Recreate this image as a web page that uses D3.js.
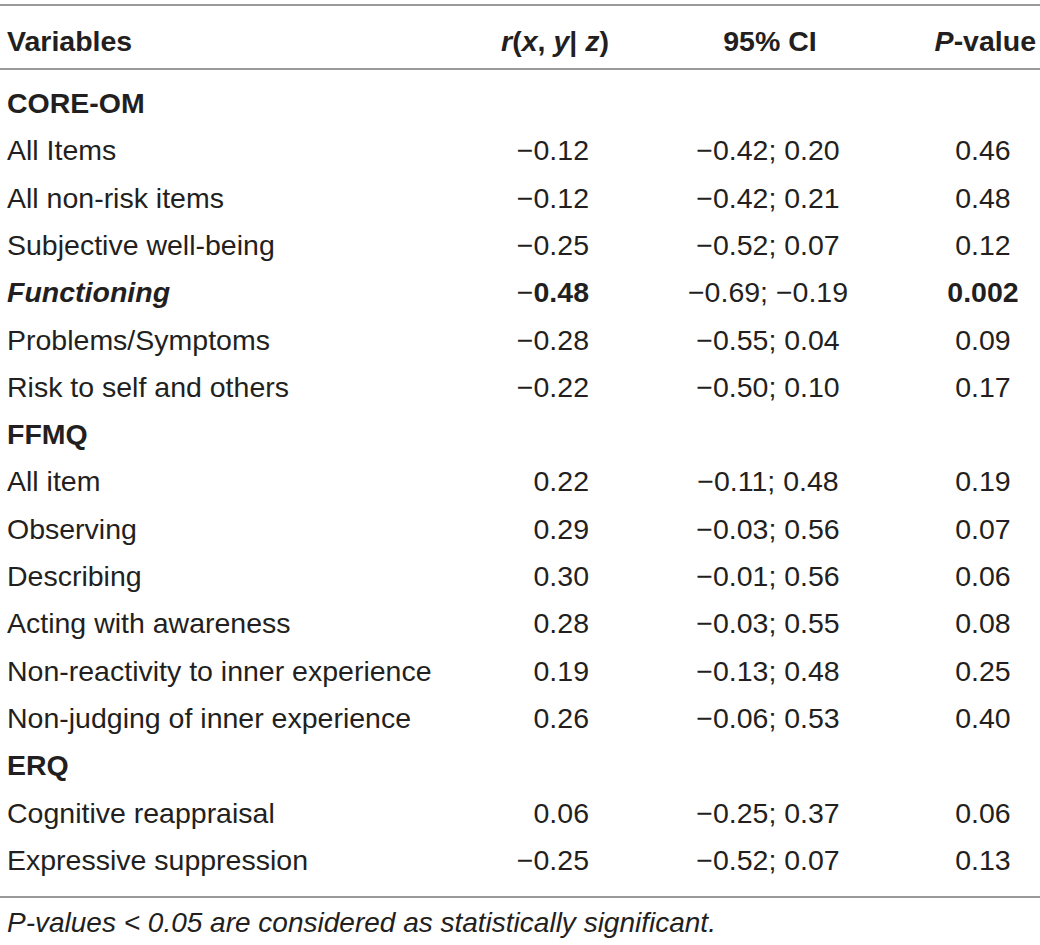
<!DOCTYPE html>
<html lang="en">
<head>
  <meta charset="UTF-8">
  <title>partial correlations</title>
  <script src="https://cdn.jsdelivr.net/npm/d3@7/dist/d3.min.js"></script>
</head>
<body>
<style>
  * { padding: 0; margin: 0; }
  body { background: #fff; }
  #app { width: 1040px; height: 945px; }
  text { font-family: "Liberation Sans", Arial, sans-serif; fill: #231f20; }
</style>

<div id="app"></div>

<script>
  // table content
  const groups = ["CORE-OM", "FFMQ", "ERQ"];
  const variables = [
    "All Items", "All non-risk items", "Subjective well-being", "Functioning",
    "Problems/Symptoms", "Risk to self and others",
    "All item", "Observing", "Describing", "Acting with awareness",
    "Non-reactivity to inner experience", "Non-judging of inner experience",
    "Cognitive reappraisal", "Expressive suppression"
  ];
  const groupOf = [0, 0, 0, 0, 0, 0, 1, 1, 1, 1, 1, 1, 2, 2];
  const rValues = [-0.12, -0.12, -0.25, -0.48, -0.28, -0.22, 0.22, 0.29, 0.30, 0.28, 0.19, 0.26, 0.06, -0.25];
  const ciLower = [-0.42, -0.42, -0.52, -0.69, -0.55, -0.50, -0.11, -0.03, -0.01, -0.03, -0.13, -0.06, -0.25, -0.52];
  const ciUpper = [0.20, 0.21, 0.07, -0.19, 0.04, 0.10, 0.48, 0.56, 0.56, 0.55, 0.48, 0.53, 0.37, 0.07];
  const pValues = [0.46, 0.48, 0.12, 0.002, 0.09, 0.17, 0.19, 0.07, 0.06, 0.08, 0.25, 0.40, 0.06, 0.13];
  const footnote = "P-values < 0.05 are considered as statistically significant.";

  const $width = 1040, $height = 945;
  const fs = 28.5;

  const svg = d3.select("#app").append("svg").attr("width", $width).attr("height", $height);

  // build row list: group header followed by its items
  let rows = [];
  groups.forEach(function (g, gi) {
    rows.push({type: "group", label: g});
    variables.forEach(function (v, i) {
      if (groupOf[i] === gi) rows.push({type: "item", i: i});
    });
  });

  const scaleY = d3.scalePoint().domain(d3.range(rows.length)).range([103, 860]);

  const fmt2 = d3.format(".2f");
  const num = function (v, d) {
    const s = d3.format("." + d + "f")(Math.abs(v));
    return (v < 0 ? "\u2212" : "") + s;
  };
  const sig = function (i) { return pValues[i] < 0.05; };

  // rules
  [5, 69, 897].forEach(function (y) {
    svg.append("line").attr("x1", 0).attr("x2", $width).attr("y1", y).attr("y2", y)
      .attr("stroke", "#9a9a9a").attr("stroke-width", 2);
  });

  // header
  const head = svg.append("g").attr("font-weight", "bold").attr("font-size", fs);
  head.append("text").attr("x", 7).attr("y", 41).attr("dy", "0.35em").text("Variables");
  const rh = head.append("text").attr("x", 555).attr("y", 41).attr("dy", "0.35em").attr("text-anchor", "middle");
  [["r", 1], ["(", 0], ["x", 1], [", ", 0], ["y", 1], ["| ", 0], ["z", 1], [")", 0]].forEach(function (p) {
    rh.append("tspan").attr("font-style", p[1] ? "italic" : "normal").text(p[0]);
  });
  head.append("text").attr("x", 770).attr("y", 41).attr("dy", "0.35em").attr("text-anchor", "middle").text("95% CI");
  const ph = head.append("text").attr("x", 1036).attr("y", 41).attr("dy", "0.35em").attr("text-anchor", "end");
  ph.append("tspan").attr("font-style", "italic").text("P");
  ph.append("tspan").text("-value");

  // body rows
  const row = svg.selectAll("g.row").data(rows).enter().append("g").attr("class", "row")
    .attr("transform", function (d, k) { return "translate(0," + scaleY(k) + ")"; })
    .attr("font-size", fs);

  row.append("text").attr("x", 7).attr("dy", "0.35em")
    .attr("font-weight", function (d) { return d.type === "group" || sig(d.i) ? "bold" : "normal"; })
    .attr("font-style", function (d) { return d.type === "item" && sig(d.i) ? "italic" : "normal"; })
    .text(function (d) { return d.type === "group" ? d.label : variables[d.i]; });

  const items = row.filter(function (d) { return d.type === "item"; });

  const rt = items.append("text").attr("x", 589).attr("dy", "0.35em").attr("text-anchor", "end");
  rt.append("tspan").text(function (d) { return rValues[d.i] < 0 ? "\u2212" : ""; });
  rt.append("tspan").attr("font-weight", function (d) { return sig(d.i) ? "bold" : "normal"; })
    .text(function (d) { return fmt2(Math.abs(rValues[d.i])); });

  items.append("text").attr("x", 768).attr("dy", "0.35em").attr("text-anchor", "middle")
    .text(function (d) { return num(ciLower[d.i], 2) + "; " + num(ciUpper[d.i], 2); });

  items.append("text").attr("x", 983).attr("dy", "0.35em").attr("text-anchor", "middle")
    .attr("font-weight", function (d) { return sig(d.i) ? "bold" : "normal"; })
    .text(function (d) { return num(pValues[d.i], pValues[d.i] < 0.01 ? 3 : 2); });

  // footnote
  svg.append("text").attr("x", 7).attr("y", 922).attr("dy", "0.35em")
    .attr("font-size", 28).attr("font-style", "italic").text(footnote);
</script>
</body>
</html>
